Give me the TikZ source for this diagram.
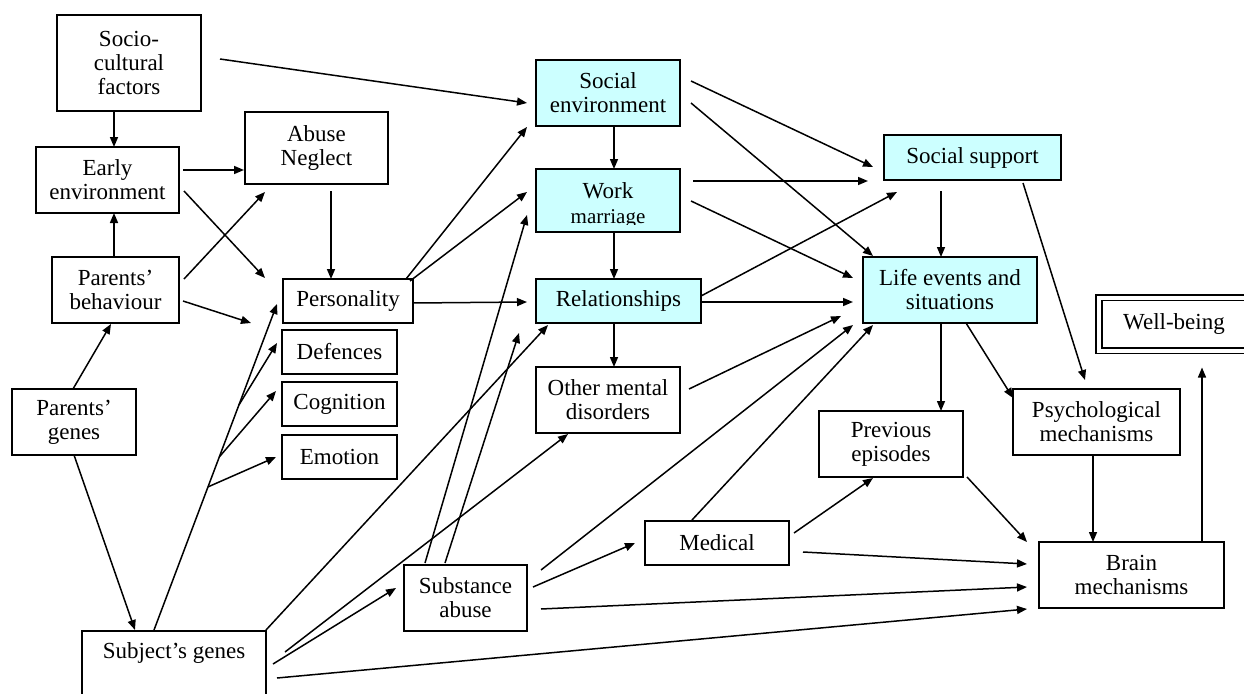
\documentclass[tikz,border=0pt]{standalone}
\usepackage{fontspec}
\setmainfont{Liberation Serif}
\usetikzlibrary{arrows.meta,calc}
\definecolor{paleCyan}{HTML}{CCFFFF}
\begin{document}
\begin{tikzpicture}[x=1pt,y=-1pt,
  box/.style={draw, line width=2pt, inner sep=0pt, align=center, font=\fontsize{23}{24}\selectfont},
  cbox/.style={box, fill=paleCyan},
  arr/.style={line width=1.5pt, -{Triangle[length=10pt,width=8pt]}},
  lbl/.style={inner sep=0pt, font=\fontsize{23}{24}\selectfont}]
\clip (0,0) rectangle (1244,693);
\fill[white] (0,0) rectangle (1244,693);

% ---------- boxes ----------
\node[box, minimum width=144pt, minimum height=96pt] (soc) at (129,63) {Socio-\\cultural\\factors};
\node[box, minimum width=143pt, minimum height=66pt] (early) at (107.5,180) {Early\\environment};
\node[box, minimum width=143pt, minimum height=72pt] (abuse) at (316.5,148) {Abuse\\Neglect};
\node[box, minimum width=127pt, minimum height=66pt] (pbeh) at (115.5,290) {Parents’\\behaviour};
\node[box, minimum width=124pt, minimum height=66pt] (pgen) at (74,422) {Parents’\\genes};
\node[box, minimum width=184pt, minimum height=79pt] (sgen) at (174,670.5) {};
\node[lbl] (sgenl) at (174,653) {Subject’s genes};

\node[box, minimum width=130pt, minimum height=44pt] (pers) at (348,301) {Personality};
\node[box, minimum width=115pt, minimum height=44pt] (def) at (339.5,352) {Defences};
\node[box, minimum width=115pt, minimum height=44pt] (cog) at (339.5,404) {Cognition};
\node[box, minimum width=115pt, minimum height=44pt] (emo) at (339.5,457) {Emotion};

\node[cbox, minimum width=144pt, minimum height=66pt] (se) at (608,93) {Social\\environment};
\node[cbox, minimum width=144pt, minimum height=63pt] (wm) at (608,200.5) {};
\begin{scope}
  \clip (537,170) rectangle (679,224.5);
  \node[lbl, anchor=base] (wmA) at (608,198) {Work};
  \node[lbl, anchor=base, font=\fontsize{21}{22}\selectfont] (wmB) at (608,223.5) {marriage};
\end{scope}
\node[cbox, minimum width=165pt, minimum height=44pt] (rel) at (618.5,301) {Relationships};
\node[box, minimum width=144pt, minimum height=66pt] (omd) at (608,400) {Other mental\\disorders};
\node[box, minimum width=144pt, minimum height=44pt] (med) at (717,543) {Medical};
\node[box, minimum width=123pt, minimum height=66pt] (sub) at (465.5,598) {Substance\\abuse};

\node[cbox, minimum width=177pt, minimum height=45pt] (ss) at (972.5,157.5) {Social support};
\node[cbox, minimum width=174pt, minimum height=66pt] (life) at (950,290) {Life events and\\situations};
\node[box, minimum width=144pt, minimum height=66pt] (prev) at (891,444) {Previous\\episodes};
\node[box, minimum width=167pt, minimum height=66pt] (psy) at (1096.5,422) {Psychological\\mechanisms};
\node[box, minimum width=185pt, minimum height=66pt] (brain) at (1131.5,575) {Brain\\mechanisms};
\node[box, double, double distance=4pt, line width=1.7pt, minimum width=150pt, minimum height=53pt] (wb) at (1174,324) {Well-being};

% ---------- connectors: left part ----------
\draw[arr] ($(soc)+(-15,48)$) -- ($(early)+(6.5,-33)$);
\draw[arr] ($(pbeh)+(-1.5,-33)$) -- ($(early)+(6.5,33)$);
\draw[arr] ($(early)+(75.5,-10)$) -- ($(abuse)+(-72.5,22)$);
\draw[arr] ($(early)+(76.5,11)$) -- ($(pers)+(-83,-23)$);
\draw[arr] ($(pbeh)+(68.5,-11)$) -- ($(abuse)+(-51.5,44)$);
\draw[arr] ($(pbeh)+(67.5,11)$) -- ($(pers)+(-97,22)$);
\draw[arr] ($(abuse)+(14.5,43)$) -- ($(pers)+(-17,-22)$);
\draw[arr] ($(pgen)+(-1,-33)$) -- ($(pbeh)+(-4.5,34)$);
\draw[arr] ($(pgen)+(0,33)$) -- ($(sgen)+(-39,-40.5)$);
\draw[arr] ($(soc)+(91,-4)$) -- ($(se)+(-81,10)$);

% genes trunk with its branches
\coordinate (trunkA) at ($(sgen)+(-20,-40.5)$);
\coordinate (trunkB) at ($(pers)+(-71,3)$);
\draw[arr] (trunkA) -- (trunkB);
\draw[arr] ($(trunkA)!0.439!(trunkB)$) -- ($(emo)+(-63.5,0)$);
\draw[arr] ($(trunkA)!0.531!(trunkB)$) -- ($(cog)+(-63.5,-13)$);
\draw[arr] ($(trunkA)!0.69!(trunkB)$) -- ($(def)+(-62.5,-9)$);

% ---------- connectors: middle ----------
\draw[arr] ($(pers)+(58,-22)$) -- ($(se)+(-81,34)$);
\draw[arr] ($(pers)+(62,-20)$) -- ($(wm)+(-81,-8.5)$);
\draw[arr] ($(pers)+(65,2)$) -- ($(rel)+(-91.5,1)$);
\draw[arr] ($(se)+(6,33)$) -- ($(wm)+(6,-31.5)$);
\draw[arr] ($(wm)+(6,31.5)$) -- ($(rel)+(-4.5,-22)$);
\draw[arr] ($(rel)+(-4.5,22)$) -- ($(omd)+(6,-33)$);

\draw[arr] ($(sgen)+(92,-40.5)$) -- ($(rel)+(-70.5,24)$);
\draw[arr] ($(sgen)+(111,-18.5)$) -- ($(omd)+(-40,34)$);
\draw[arr] ($(sgen)+(99,-6.5)$) -- ($(sub)+(-69.5,-10)$);
\draw[arr] ($(sgen)+(103,7.5)$) -- ($(brain)+(-104.5,34)$);
\draw[arr] ($(sub)+(-40.5,-35)$) -- ($(wm)+(-81,14.5)$);
\draw[arr] ($(sub)+(-20.5,-35)$) -- ($(rel)+(-99.5,32)$);
\draw[arr] ($(sub)+(67.5,-11)$) -- ($(med)+(-82,0)$);
\draw[arr] ($(sub)+(75.5,11)$) -- ($(brain)+(-104.5,12)$);
\draw[arr] ($(sub)+(75.5,-28)$) -- ($(life)+(-97,35)$);

% ---------- connectors: right part ----------
\draw[arr] ($(se)+(83,-12)$) -- ($(ss)+(-99.5,9.5)$);
\draw[arr] ($(se)+(83,10)$) -- ($(life)+(-77,-34)$);
\draw[arr] ($(wm)+(85,-19.5)$) -- ($(ss)+(-104.5,23.5)$);
\draw[arr] ($(wm)+(83,0.5)$) -- ($(life)+(-97,-12)$);
\draw[arr] ($(rel)+(82.5,-5)$) -- ($(ss)+(-75.5,34.5)$);
\draw[arr] ($(rel)+(82.5,1)$) -- ($(life)+(-97,12)$);
\draw[arr] ($(omd)+(81,-11)$) -- ($(life)+(-109,26)$);
\draw[arr] ($(med)+(-25,-23)$) -- ($(life)+(-77,35)$);
\draw[arr] ($(med)+(77,-10)$) -- ($(prev)+(-18,34)$);
\draw[arr] ($(med)+(86,9)$) -- ($(brain)+(-104.5,-11)$);
\draw[arr] ($(prev)+(76,33)$) -- ($(brain)+(-104.5,-33)$);
\draw[arr] ($(ss)+(-31.5,33.5)$) -- ($(life)+(-9,-33)$);
\draw[arr] ($(ss)+(50.5,25.5)$) -- ($(psy)+(-11.5,-42)$);
\draw[arr] ($(life)+(-9,33)$) -- ($(prev)+(50,-33)$);
\draw[arr] ($(life)+(16,33)$) -- ($(psy)+(-83.5,-24)$);
\draw[arr] ($(psy)+(-3.5,33)$) -- ($(brain)+(-38.5,-33)$);
\draw[arr] ($(brain)+(70.5,-33)$) -- ($(wb)+(28,43.5)$);
\end{tikzpicture}
\end{document}
